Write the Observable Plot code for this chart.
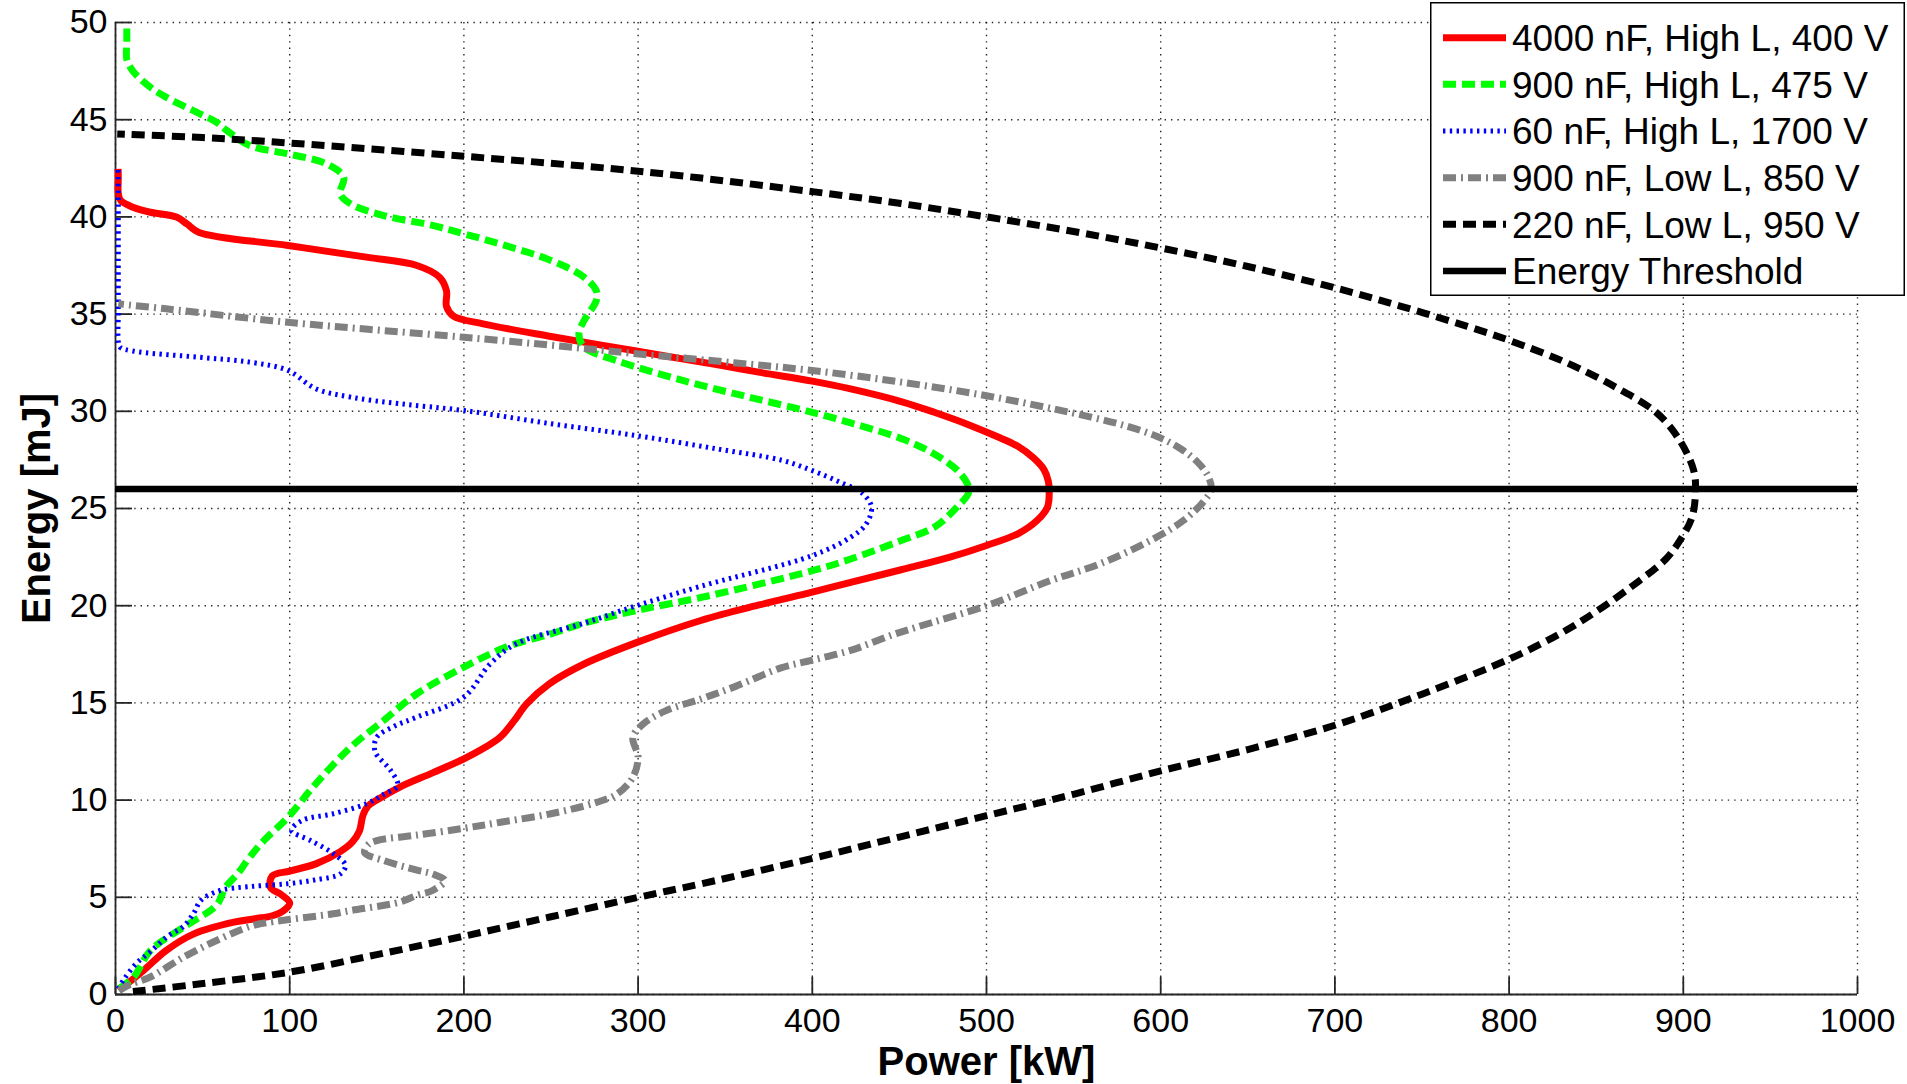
<!DOCTYPE html>
<html><head><meta charset="utf-8">
<script src="https://cdn.jsdelivr.net/npm/d3@7"></script>
<script src="https://cdn.jsdelivr.net/npm/@observablehq/plot@0.6"></script>
<style>
body{margin:0;background:#fff;}
#wrap{position:relative;width:1907px;height:1084px;overflow:hidden;background:#fff;}
#legend{position:absolute;left:1430px;top:2px;}
</style></head><body><div id="wrap"></div>
<script>
// ---- data (Power [kW], Energy [mJ]) ----
const seriesNames = ["4000 nF, High L, 400 V","900 nF, High L, 475 V","60 nF, High L, 1700 V","900 nF, Low L, 850 V","220 nF, Low L, 950 V"];
const thresholdName = "Energy Threshold";
const thresholdEnergy = [26];
const xTicks = [0,100,200,300,400,500,600,700,800,900,1000];
const yTicks = [0,5,10,15,20,25,30,35,40,45,50];
const xLabel = "Power [kW]";
const yLabel = "Energy [mJ]";

const red4000 = [[2,0.2],[6,0.5],[16,1.23],[29,2.26],[45,3.12],[68,3.72],[80,3.9],[90,4.05],[97,4.35],[100,4.7],[95,5.15],[89,5.5],[90,6.1],[100,6.35],[115,6.72],[129,7.35],[136,7.85],[140,8.4],[142,9.2],[145,9.7],[150,10.0],[163,10.66],[182,11.4],[200,12.12],[212,12.7],[221,13.25],[229,14.1],[236,14.95],[249,15.98],[269,17.0],[299,18.1],[336,19.24],[370,20.05],[400,20.7],[422,21.2],[451,21.85],[479,22.5],[500,23.1],[518,23.7],[529,24.38],[535,25.07],[536,25.84],[535.5,26.4],[533,27.0],[527,27.6],[518,28.2],[506,28.7],[490,29.3],[470,29.95],[451,30.5],[422,31.15],[400,31.55],[370,32.0],[345,32.4],[299,33.1],[250,33.85],[211,34.5],[194,34.9],[190,35.4],[190,36.2],[186,36.9],[173,37.5],[144,37.93],[99,38.53],[48,39.2],[41,39.64],[35,39.99],[20,40.24],[10,40.5],[3,40.84],[1.6,41.2],[1.6,42.0],[1.5,42.47]];

const green900 = [[2,0.3],[10.5,0.9],[20,2.26],[39,3.46],[58,4.6],[63,5.5],[70,6.2],[77,7.06],[85,7.9],[99,9.12],[115,10.84],[135,12.72],[154,14.1],[173,15.47],[200,16.84],[225,17.9],[250,18.55],[269,19.1],[299,19.75],[340,20.5],[400,21.8],[422,22.4],[451,23.35],[470,24.04],[483,25.07],[490,25.9],[485,26.8],[470,27.8],[451,28.6],[422,29.4],[400,29.95],[364,30.72],[326,31.58],[288,32.6],[269,33.3],[266,34.0],[269,34.67],[276,35.7],[276,36.2],[269,36.9],[250,37.76],[221,38.6],[200,39.13],[182,39.56],[154,40.07],[135,40.67],[129,41.19],[131,42.04],[121,42.73],[99,43.24],[77,43.67],[64,44.44],[58,44.87],[48.5,45.3],[29,46.16],[20,46.67],[10,47.5],[6.5,48.1],[6.5,49],[6.5,50]];

const blue60 = [[1.5,0.3],[5,0.8],[12,1.6],[20,2.2],[30,3.0],[39,3.5],[45,4.2],[49,4.84],[60,5.35],[77,5.55],[99,5.7],[115,5.9],[129,6.2],[132,6.65],[125,7.25],[112,7.92],[101,8.44],[107,8.95],[125,9.3],[144,9.81],[154,10.3],[162,10.75],[158,11.52],[149,12.5],[150,13.23],[160,13.8],[173,14.27],[200,15.3],[215,17.0],[230,18.04],[269,19.1],[299,20.0],[336,21.0],[400,22.58],[422,23.52],[431,24.21],[434,25.07],[429,25.76],[416,26.35],[400,26.95],[383,27.47],[345,28.07],[299,28.75],[250,29.36],[200,30.04],[163,30.39],[135,30.73],[115,31.16],[99,32.1],[77,32.53],[48,32.78],[10,33.1],[2.6,33.3],[1.6,33.6],[1.6,35],[1.6,37],[1.6,39],[1.6,40.5],[1.5,42.5]];

const gray900 = [[2,0.2],[8,0.5],[20,0.9],[39,1.92],[58,2.78],[77,3.5],[87,3.7],[125,4.15],[135,4.32],[163,4.75],[173,5.1],[182,5.35],[189,5.86],[182,6.2],[173,6.4],[154,6.89],[143,7.3],[145,7.7],[150,7.92],[173,8.2],[200,8.55],[221,8.86],[250,9.3],[275,9.85],[288,10.32],[297,11.18],[300,12.2],[297,13.23],[303,13.92],[316,14.6],[336,15.2],[356,15.85],[382,16.8],[400,17.2],[422,17.7],[446,18.5],[460,18.9],[500,20.0],[537,21.3],[565,22.15],[594,23.35],[613,24.38],[625,25.4],[629,26.0],[627,26.7],[621,27.4],[611,28.1],[598,28.7],[580,29.25],[560,29.7],[537,30.15],[500,30.8],[451,31.5],[400,32.1],[355,32.5],[299,32.96],[250,33.4],[200,33.81],[99,34.58],[29,35.27],[1.6,35.53]];

const black220 = [[10,0.15],[49,0.55],[100,1.15],[150,2.05],[200,3.0],[250,4.0],[300,5.0],[336,5.69],[400,7.0],[450,8.1],[500,9.2],[550,10.3],[600,11.5],[650,12.6],[700,13.85],[750,15.45],[800,17.25],[830,18.6],[850,19.7],[875,21.3],[890,22.4],[898,23.35],[905,24.55],[907,25.9],[906,26.95],[898,28.5],[885,29.9],[862,31.2],[833,32.5],[800,33.65],[776,34.37],[738,35.4],[700,36.35],[650,37.45],[600,38.4],[550,39.25],[500,40.0],[450,40.7],[400,41.3],[300,42.35],[200,43.12],[100,43.8],[50,44.08],[1,44.27]];

const seriesData = [red4000, green900, blue60, gray900, black220];

// ---- styles ----
const seriesStyles = [
  {stroke:"#ff0000", strokeWidth:7, dash:null},
  {stroke:"#00ff00", strokeWidth:7, dash:"13,6"},
  {stroke:"#0000ff", strokeWidth:5, dash:"2.4,4.4"},
  {stroke:"#808080", strokeWidth:7, dash:"13,5,2,5"},
  {stroke:"#000000", strokeWidth:7, dash:"13,7"}
];
const thresholdStyle = {stroke:"#000000", strokeWidth:6.5, dash:null};

const W = 1907, H = 1084, mL = 115, mR = 50, mT = 22, mB = 90;
const innerW = W - mL - mR, innerH = H - mT - mB;
const axisColor = "#262626";
const font = "'Liberation Sans', Arial, Helvetica, sans-serif";

const lineMarks = seriesData.map((data, i) => Plot.line(data, {
  x: d => d[0], y: d => d[1],
  stroke: seriesStyles[i].stroke,
  strokeWidth: seriesStyles[i].strokeWidth,
  strokeDasharray: seriesStyles[i].dash,
  strokeLinecap: "butt", strokeLinejoin: "round",
  curve: "catmull-rom"
}));

const chart = Plot.plot({
  width: W, height: H,
  marginLeft: mL, marginRight: mR, marginTop: mT, marginBottom: mB,
  style: {fontFamily: font, background: "white", color: "black"},
  x: {domain: [0, 1000]},
  y: {domain: [0, 50]},
  marks: [
    Plot.gridX(xTicks, {stroke: "#000", strokeOpacity: 0.85, strokeWidth: 1.4, strokeDasharray: "1.4,5"}),
    Plot.gridY(yTicks, {stroke: "#000", strokeOpacity: 0.85, strokeWidth: 1.4, strokeDasharray: "1.4,5"}),
    Plot.ruleX([0], {stroke: axisColor, strokeWidth: 1.8}),
    Plot.ruleY([0], {stroke: axisColor, strokeWidth: 1.8}),
    Plot.tickX(xTicks, {x: d => d, insetTop: innerH - 17, stroke: axisColor, strokeWidth: 1.8}),
    Plot.tickY(yTicks, {y: d => d, insetRight: innerW - 17, stroke: axisColor, strokeWidth: 1.8}),
    Plot.axisX(xTicks, {tickSize: 0, tickPadding: 13, fontSize: 34, label: null, fill: "#000", tickFormat: d => String(d)}),
    Plot.axisY(yTicks, {tickSize: 0, tickPadding: 8, fontSize: 34, label: null, fill: "#000", tickFormat: d => String(d)}),
    ...lineMarks,
    Plot.ruleY(thresholdEnergy, {stroke: thresholdStyle.stroke, strokeWidth: thresholdStyle.strokeWidth}),
    Plot.text([xLabel], {text: d => d, frameAnchor: "bottom", lineAnchor: "middle", textAnchor: "middle", dy: 68, fontSize: 40, fontWeight: "bold", fill: "#000"}),
    Plot.text([yLabel], {text: d => d, frameAnchor: "left", lineAnchor: "middle", textAnchor: "middle", dx: -78, rotate: -90, fontSize: 40, fontWeight: "bold", fill: "#000"})
  ]
});
document.getElementById("wrap").appendChild(chart);

// ---- legend ----
const legendItems = seriesNames.map((n, i) => ({name: n, ...seriesStyles[i]}))
  .concat([{name: thresholdName, ...thresholdStyle}]);
const LW = 476, LH = 295, rowStep = 46.65, row0 = 35.7;
const leg = d3.select("#wrap").append("svg").attr("id", "legend")
  .attr("width", LW).attr("height", LH).style("font-family", font);
leg.append("rect").attr("x", 0.75).attr("y", 0.75).attr("width", LW - 2.5).attr("height", LH - 2.5)
  .attr("fill", "white").attr("stroke", "#000").attr("stroke-width", 1.5);
legendItems.forEach((it, i) => {
  const y = row0 + i * rowStep;
  leg.append("line").attr("x1", 13).attr("x2", 76).attr("y1", y).attr("y2", y)
    .attr("stroke", it.stroke).attr("stroke-width", it.strokeWidth)
    .attr("stroke-dasharray", it.dash).attr("stroke-linecap", "butt");
  leg.append("text").attr("x", 82).attr("y", y).attr("dy", "0.36em")
    .attr("font-size", 37).attr("fill", "#000").text(it.name);
});
</script></body></html>
